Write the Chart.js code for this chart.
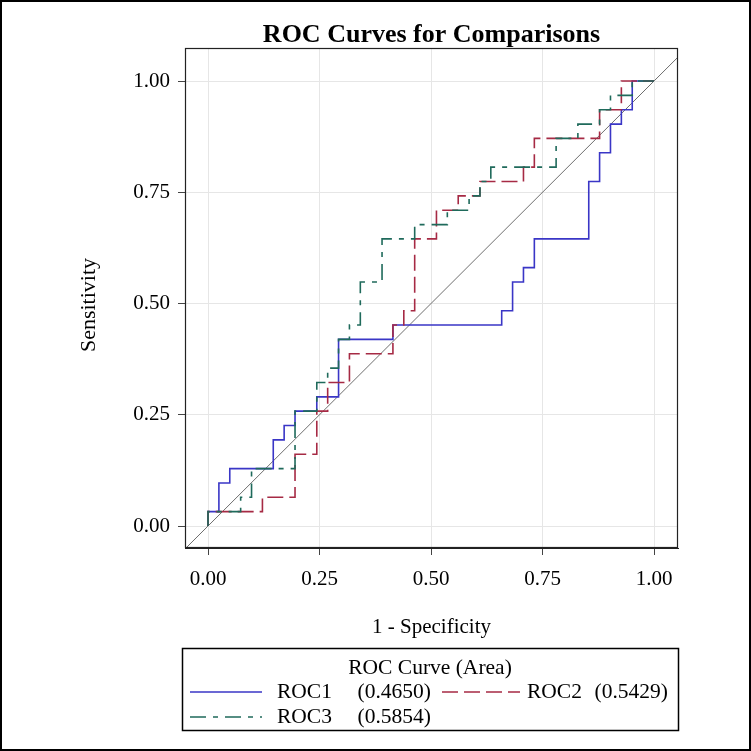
<!DOCTYPE html>
<html lang="en">

<head>
    <meta charset="UTF-8" />
    <title>ROC Curves for Comparisons</title>
    <script src="https://cdn.jsdelivr.net/npm/chart.js"></script>
    <style>
        body { margin: 0; background: #fff; }
        canvas { display: block; }
    </style>
</head>

<body>
    <canvas id="graficoRoc" width="751" height="751"></canvas>
    <script>
        // 1 - Specificity / Sensitivity corners of each step curve
        const roc1X = [0, 0, 0.0244, 0.0244, 0.0488, 0.0488, 0.1463, 0.1463, 0.1707, 0.1707, 0.1951, 0.1951, 0.2439, 0.2439, 0.2927, 0.2927, 0.4146, 0.4146, 0.6585, 0.6585, 0.6829, 0.6829, 0.7073, 0.7073, 0.7317, 0.7317, 0.8537, 0.8537, 0.8780, 0.8780, 0.9024, 0.9024, 0.9268, 0.9268, 0.9512, 0.9512, 1];
        const roc1Y = [0, 0.0323, 0.0323, 0.0968, 0.0968, 0.1290, 0.1290, 0.1935, 0.1935, 0.2258, 0.2258, 0.2581, 0.2581, 0.2903, 0.2903, 0.4194, 0.4194, 0.4516, 0.4516, 0.4839, 0.4839, 0.5484, 0.5484, 0.5806, 0.5806, 0.6452, 0.6452, 0.7742, 0.7742, 0.8387, 0.8387, 0.9032, 0.9032, 0.9355, 0.9355, 1, 1];

        const roc2X = [0, 0, 0.1220, 0.1220, 0.1951, 0.1951, 0.2439, 0.2439, 0.2683, 0.2683, 0.3171, 0.3171, 0.4146, 0.4146, 0.4390, 0.4390, 0.4634, 0.4634, 0.5122, 0.5122, 0.5610, 0.5610, 0.6098, 0.6098, 0.7073, 0.7073, 0.7317, 0.7317, 0.8780, 0.8780, 0.9268, 0.9268, 1];
        const roc2Y = [0, 0.0323, 0.0323, 0.0645, 0.0645, 0.1613, 0.1613, 0.2581, 0.2581, 0.3226, 0.3226, 0.3871, 0.3871, 0.4516, 0.4516, 0.4839, 0.4839, 0.6452, 0.6452, 0.7097, 0.7097, 0.7419, 0.7419, 0.7742, 0.7742, 0.8065, 0.8065, 0.8710, 0.8710, 0.9355, 0.9355, 1, 1];

        const roc3X = [0, 0, 0.0732, 0.0732, 0.0976, 0.0976, 0.1951, 0.1951, 0.2439, 0.2439, 0.2683, 0.2683, 0.2927, 0.2927, 0.3171, 0.3171, 0.3415, 0.3415, 0.3902, 0.3902, 0.4634, 0.4634, 0.5366, 0.5366, 0.5854, 0.5854, 0.6098, 0.6098, 0.6341, 0.6341, 0.7805, 0.7805, 0.8293, 0.8293, 0.8780, 0.8780, 0.9024, 0.9024, 0.9512, 0.9512, 1];
        const roc3Y = [0, 0.0323, 0.0323, 0.0645, 0.0645, 0.1290, 0.1290, 0.2581, 0.2581, 0.3226, 0.3226, 0.3548, 0.3548, 0.4194, 0.4194, 0.4516, 0.4516, 0.5484, 0.5484, 0.6452, 0.6452, 0.6774, 0.6774, 0.7097, 0.7097, 0.7419, 0.7419, 0.7742, 0.7742, 0.8065, 0.8065, 0.8710, 0.8710, 0.9032, 0.9032, 0.9355, 0.9355, 0.9677, 0.9677, 1, 1];

        // chance line
        const diagX = [-0.06, 1.06];
        const diagY = [-0.06, 1.06];

        const curveNames = ['ROC1', 'ROC2', 'ROC3'];
        const curveAreas = [0.4650, 0.5429, 0.5854];
        const tickValues = [0, 0.25, 0.5, 0.75, 1];

        const serif = "'Liberation Serif', 'DejaVu Serif', serif";
        const cores = ['#3a36c6', '#a62a44', '#1f6a5b'];
        const tracos = [[], [16, 6], [16, 7, 5, 7]];

        function pontos(xs, ys) {
            return xs.map((x, i) => ({ x: x, y: ys[i] }));
        }

        // white page + outer frame + plot frame + title + y title + legend
        const moldura = {
            id: 'moldura',
            beforeDraw(chart) {
                const ctx = chart.ctx;
                ctx.save();
                ctx.fillStyle = '#fff';
                ctx.fillRect(0, 0, chart.width, chart.height);
                ctx.restore();
            },
            afterDraw(chart) {
                const ctx = chart.ctx;
                const a = chart.chartArea;
                ctx.save();

                ctx.strokeStyle = '#000';
                ctx.lineWidth = 2;
                ctx.strokeRect(1, 1, chart.width - 2, chart.height - 2);

                ctx.lineWidth = 1.2;
                ctx.strokeStyle = '#222';
                ctx.strokeRect(a.left + 0.5, a.top + 0.5, a.right - a.left - 1, a.bottom - a.top - 1);

                ctx.fillStyle = '#000';
                ctx.textAlign = 'center';
                ctx.textBaseline = 'middle';
                ctx.font = 'bold 26px ' + serif;
                ctx.fillText('ROC Curves for Comparisons', (a.left + a.right) / 2, 35);

                ctx.save();
                ctx.translate(89, 305);
                ctx.rotate(-Math.PI / 2);
                ctx.font = '22px ' + serif;
                ctx.fillText('Sensitivity', 0, 0);
                ctx.restore();

                // legend box
                ctx.lineWidth = 1.5;
                ctx.strokeStyle = '#000';
                ctx.strokeRect(182.5, 648.5, 496, 82);
                ctx.font = '21.5px ' + serif;
                ctx.fillText('ROC Curve (Area)', 430, 668);

                const itens = [
                    { x0: 190, x1: 262, nx: 277, ax: 431, y: 692 },
                    { x0: 442, x1: 520, nx: 527, ax: 668, y: 692 },
                    { x0: 190, x1: 262, nx: 277, ax: 431, y: 717 }
                ];
                itens.forEach((it, i) => {
                    ctx.beginPath();
                    ctx.setLineDash(tracos[i]);
                    ctx.strokeStyle = cores[i];
                    ctx.lineWidth = 1.6;
                    ctx.moveTo(it.x0, it.y);
                    ctx.lineTo(it.x1, it.y);
                    ctx.stroke();
                    ctx.setLineDash([]);
                    ctx.fillStyle = '#000';
                    ctx.textAlign = 'left';
                    ctx.fillText(curveNames[i], it.nx, it.y);
                    ctx.textAlign = 'right';
                    ctx.fillText('(' + curveAreas[i].toFixed(4) + ')', it.ax, it.y);
                });
                ctx.restore();
            }
        };

        const ctx = document.getElementById('graficoRoc');
        new Chart(ctx, {
            type: 'scatter',
            data: {
                datasets: [
                    { label: curveNames[0], data: pontos(roc1X, roc1Y), borderColor: cores[0], borderDash: tracos[0], order: 2 },
                    { label: curveNames[1], data: pontos(roc2X, roc2Y), borderColor: cores[1], borderDash: tracos[1], order: 1 },
                    { label: curveNames[2], data: pontos(roc3X, roc3Y), borderColor: cores[2], borderDash: tracos[2], order: 0 },
                    { label: 'diag', data: pontos(diagX, diagY), borderColor: '#6e6e6e', borderWidth: 1, order: 3 }
                ].map(d => Object.assign({ showLine: true, pointRadius: 0, borderWidth: 1.6, tension: 0, fill: false }, d))
            },
            options: {
                responsive: false,
                animation: false,
                layout: { padding: { left: 70, right: 73, top: 48, bottom: 111 } },
                plugins: {
                    legend: { display: false },
                    tooltip: { enabled: false }
                },
                scales: {
                    x: {
                        type: 'linear',
                        min: -0.0516,
                        max: 1.0538,
                        afterBuildTicks: s => { s.ticks = tickValues.map(v => ({ value: v })); },
                        afterFit: s => { s.height = 92; },
                        ticks: {
                            callback: v => v.toFixed(2),
                            font: { family: serif, size: 21 },
                            color: '#000',
                            padding: 12,
                            maxRotation: 0,
                            autoSkip: false
                        },
                        grid: { color: '#e6e6e6', tickColor: '#444', tickLength: 7 },
                        border: { color: '#222' },
                        title: {
                            display: true,
                            text: '1 - Specificity',
                            font: { family: serif, size: 21 },
                            color: '#000',
                            padding: { top: 0, bottom: 0 }
                        }
                    },
                    y: {
                        type: 'linear',
                        min: -0.0494,
                        max: 1.0742,
                        afterBuildTicks: s => { s.ticks = tickValues.map(v => ({ value: v })); },
                        afterFit: s => { s.width = 115; },
                        ticks: {
                            callback: v => v.toFixed(2),
                            font: { family: serif, size: 21 },
                            color: '#000',
                            padding: 8,
                            autoSkip: false
                        },
                        grid: { color: '#e6e6e6', tickColor: '#444', tickLength: 7 },
                        border: { color: '#222' }
                    }
                }
            },
            plugins: [moldura]
        });
    </script>
</body>

</html>
